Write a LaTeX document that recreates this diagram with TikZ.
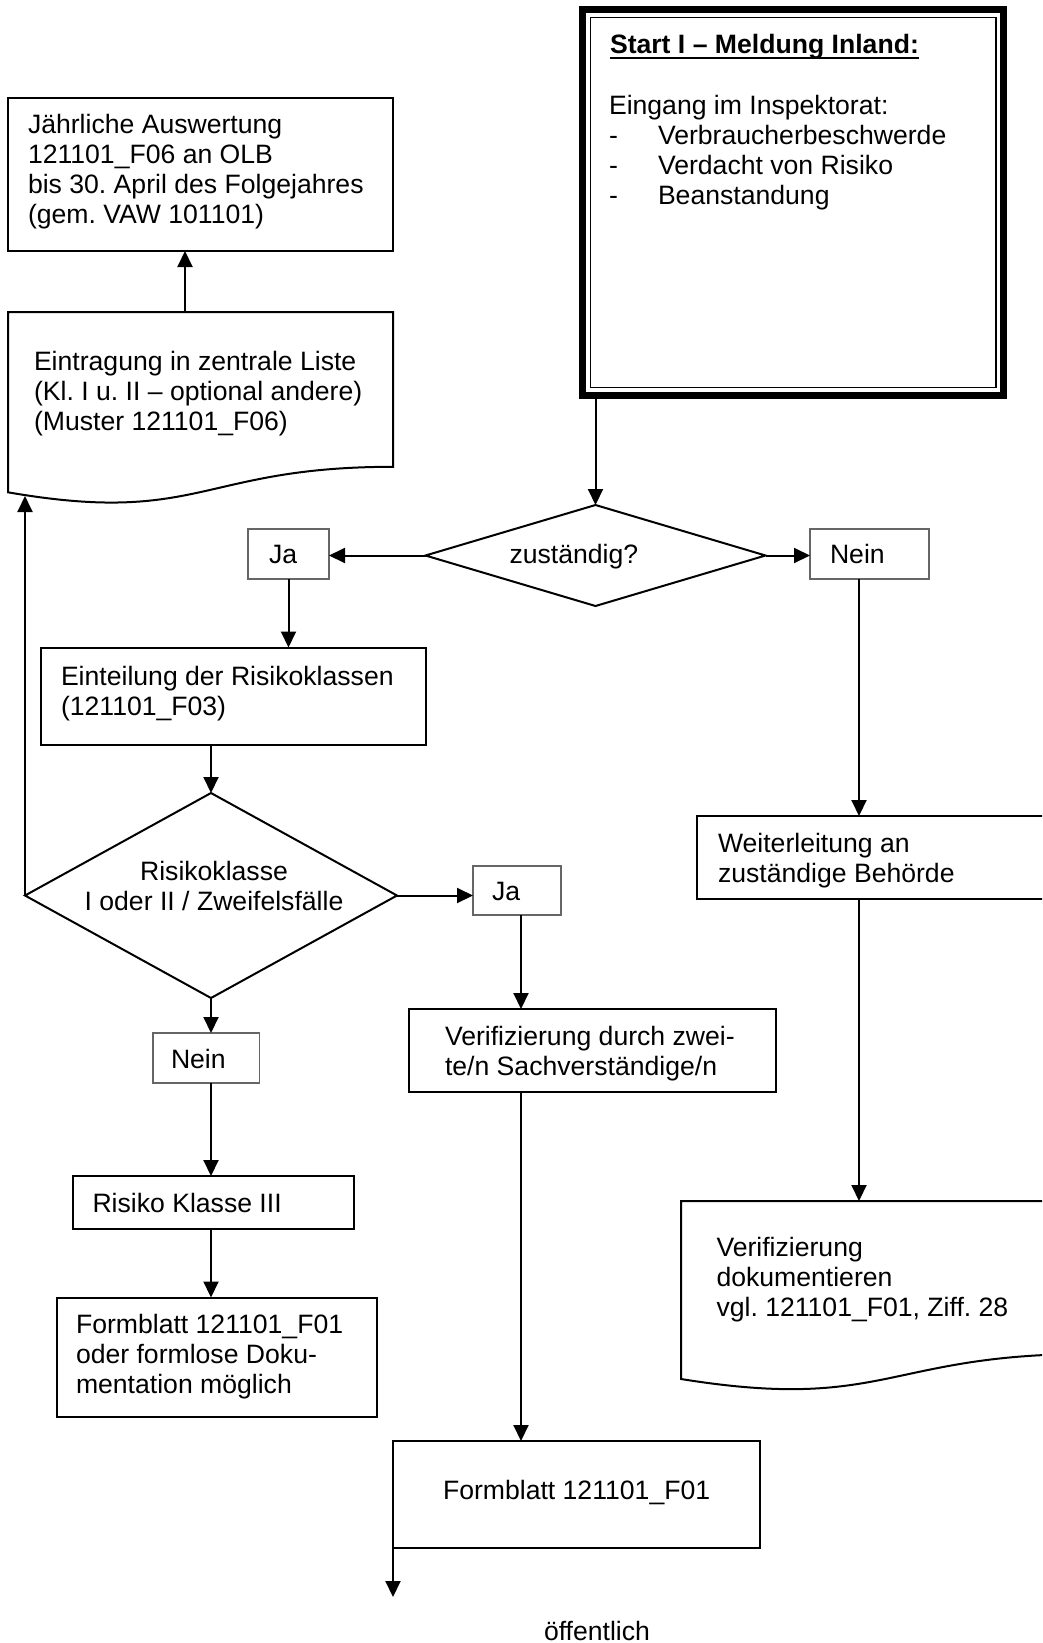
\documentclass[tikz,border=0pt]{standalone}
\usepackage{fontspec}
\setmainfont{Liberation Sans}
\usetikzlibrary{arrows.meta,shapes.geometric}
\frenchspacing
\begin{document}
\begin{tikzpicture}[x=1pt,y=-1pt,
  box/.style={draw=black, line width=2pt, rectangle, inner sep=0pt, outer sep=0pt, anchor=north west},
  lbox/.style={draw=black!60, line width=1.3pt, rectangle, inner sep=0pt, outer sep=0pt, anchor=north west},
  area/.style={draw=none, rectangle, inner sep=0pt, outer sep=0pt, anchor=north west},
  txt/.style={inner sep=0pt, outer sep=0pt, anchor=base west, align=left, font=\fontsize{26.6}{30}\selectfont\frenchspacing},
  dec/.style={draw=black, line width=2pt, diamond, inner sep=0pt, outer sep=0pt},
  ln/.style={line width=2pt, line join=miter},
  arr/.style={line width=2pt, -{Triangle[length=16pt,width=15pt]}}
]
\useasboundingbox (0,0) rectangle (1042,1643);
\clip (0,0) rectangle (1042,1643);
\fill[white] (0,0) rectangle (1042,1643);

% multi-line text nodes are placed by the baseline of their LAST line

% ---- start box (thick-thin frame)
\node[draw=black, line width=7pt, rectangle, minimum width=421pt, minimum height=386pt, inner sep=0pt, outer sep=3.5pt] (start) at (793,202.7) {};
\draw[line width=1.3pt] (590.5,17.3) rectangle (996,387.5);
\node[txt, font=\fontsize{26.6}{30}\selectfont\bfseries] (title) at (610,53.3) {Start I – Meldung Inland:};
\draw[line width=2pt] ([yshift=-5pt]title.base west) -- ([yshift=-5pt]title.base east);
\node[txt] (startT) at (609,204) {Eingang im Inspektorat:\\\makebox[49pt][l]{-}Verbraucherbeschwerde\\\makebox[49pt][l]{-}Verdacht von Risiko\\\makebox[49pt][l]{-}Beanstandung};

% ---- left column top
\node[box, minimum width=385pt, minimum height=153pt] (jahr) at (8,98) {};
\node[txt] (jahrT) at (28,223.3) {Jährliche Auswertung\\121101\_F06 an OLB\\bis 30. April des Folgejahres\\(gem. VAW 101101)};

\node[area, minimum width=385pt, minimum height=193pt] (doc1) at (8,312) {};
\draw[ln] (8,492.3) -- (8,312) -- (393,312) -- (393,466.8) .. controls (200.5,466.8) and (200.5,525.7) .. (8,492.3) -- cycle;
\node[txt] (doc1T) at (34,430) {Eintragung in zentrale Liste\\(Kl. I u. II – optional andere)\\(Muster 121101\_F06)};

% ---- first decision
\node[dec, minimum width=340pt, minimum height=101pt] (dia1) at (595.5,555.5) {};
\node[txt] (dia1T) at (509.5,563) {zuständig?};
\node[lbox, minimum width=81pt, minimum height=50pt] (ja1) at (248,529) {};
\node[txt] (ja1T) at (269,563) {Ja};
\node[lbox, minimum width=119pt, minimum height=50pt] (nein1) at (810,529) {};
\node[txt] (nein1T) at (830,563) {Nein};

\node[box, minimum width=385pt, minimum height=97pt] (einteil) at (41,647.5) {};
\node[txt] (einteilT) at (61,715) {Einteilung der Risikoklassen\\(121101\_F03)};

% ---- second decision
\node[dec, minimum width=372pt, minimum height=205pt] (dia2) at (211,895.5) {};
\node[txt, anchor=base, align=center] (dia2T) at (214,910) {Risikoklasse\\I oder II / Zweifelsfälle};
\node[lbox, minimum width=88pt, minimum height=49pt] (ja2) at (473,866) {};
\node[txt] (ja2T) at (492,900) {Ja};
\node[lbox, minimum width=106.5pt, minimum height=50pt] (nein2) at (153,1033) {};
\node[txt] (nein2T) at (171,1068) {Nein};

\node[box, minimum width=281.3pt, minimum height=53pt] (rk3) at (72.7,1176) {};
\node[txt] (rk3T) at (92.5,1212) {Risiko Klasse III};
\node[box, minimum width=320.8pt, minimum height=119.8pt] (formlose) at (56.6,1297.5) {};
\node[txt] (formloseT) at (76,1393) {Formblatt 121101\_F01\\oder formlose Doku-\\mentation möglich};

\node[box, minimum width=367pt, minimum height=83pt] (verif) at (409,1009) {};
\node[txt] (verifT) at (445,1075) {Verifizierung durch zwei-\\te/n Sachverständige/n};
\node[box, minimum width=367pt, minimum height=107pt] (final) at (393,1441) {};
\node[txt] (finalT) at (443,1499.3) {Formblatt 121101\_F01};

% ---- right column
\node[box, minimum width=373.5pt, minimum height=83pt] (weiter) at (696.5,816) {};
\node[txt] (weiterT) at (718,882) {Weiterleitung an\\zuständige Behörde};
\node[area, minimum width=410pt, minimum height=190.6pt] (doc2) at (681,1201) {};
\draw[ln] (681,1379) -- (681,1201) -- (1091,1201) -- (1091,1353.9) .. controls (886,1353.9) and (886,1412) .. (681,1379) -- cycle;
\node[txt] (doc2T) at (716.5,1316.7) {Verifizierung\\dokumentieren\\vgl. 121101\_F01, Ziff. 28};

\node[txt, text depth=0pt] (foot) at (544,1640) {öffentlich};

% ---- connectors
\coordinate (d1in) at (25,496);
\coordinate (docx) at ([xshift=-15.5pt]doc1.north);
\coordinate (neinx) at ([xshift=-10.5pt]nein1.south);
\coordinate (jax) at ([xshift=4pt]ja2.south);
\coordinate (out) at (393,1597);

\draw[arr] (start.south -| dia1.north) -- (dia1.north);
\draw[arr] (dia1.west) -- (dia1.west -| ja1.east);
\draw[arr] (dia1.east) -- (dia1.east -| nein1.west);
\draw[arr] (ja1.south) -- (ja1.south |- einteil.north);
\draw[arr] (einteil.south -| dia2.north) -- (dia2.north);
\draw[arr] (dia2.south) -- (dia2.south |- nein2.north);
\draw[arr] (nein2.south -| dia2.south) -- (dia2.south |- rk3.north);
\draw[arr] (rk3.south -| dia2.south) -- (dia2.south |- formlose.north);
\draw[arr] (dia2.east) -- (dia2.east -| ja2.west);
\draw[arr] (jax) -- (jax |- verif.north);
\draw[arr] (jax |- verif.south) -- (jax |- final.north);
\draw[arr] (dia2.west) -- (dia2.west |- d1in);
\draw[arr] (docx) -- (docx |- jahr.south);
\draw[arr] (neinx) -- (neinx |- weiter.north);
\draw[arr] (neinx |- weiter.south) -- (neinx |- doc2.north);
\draw[arr] (final.south west) -- (out);
\end{tikzpicture}
\end{document}
